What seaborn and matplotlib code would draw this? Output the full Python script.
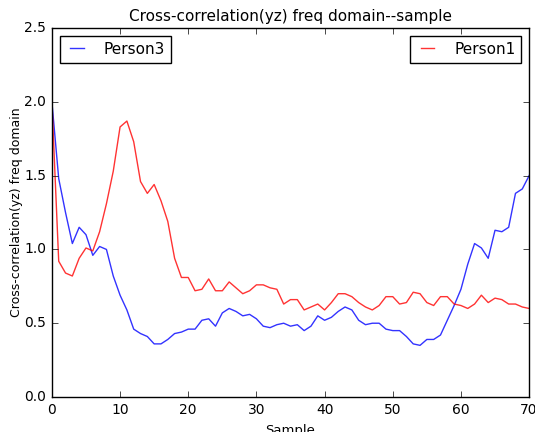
import numpy as np
import pandas as pd
import matplotlib
matplotlib.use("Agg")
import matplotlib.pyplot as plt
import seaborn as sns

samples = list(range(71))
person3 = [2.00, 1.48, 1.25, 1.04, 1.15, 1.10, 0.96, 1.02, 1.00, 0.82,
           0.69, 0.59, 0.46, 0.43, 0.41, 0.36, 0.36, 0.39, 0.43, 0.44,
           0.46, 0.46, 0.52, 0.53, 0.48, 0.57, 0.60, 0.58, 0.55, 0.56,
           0.53, 0.48, 0.47, 0.49, 0.50, 0.48, 0.49, 0.45, 0.48, 0.55,
           0.52, 0.54, 0.58, 0.61, 0.59, 0.52, 0.49, 0.50, 0.50, 0.46,
           0.45, 0.45, 0.41, 0.36, 0.35, 0.39, 0.39, 0.42, 0.52, 0.62,
           0.73, 0.90, 1.04, 1.01, 0.94, 1.13, 1.12, 1.15, 1.38, 1.41,
           1.50]
person1 = [2.00, 0.92, 0.84, 0.82, 0.94, 1.01, 0.99, 1.12, 1.31, 1.53,
           1.83, 1.87, 1.73, 1.46, 1.38, 1.44, 1.33, 1.19, 0.94, 0.81,
           0.81, 0.72, 0.73, 0.80, 0.72, 0.72, 0.78, 0.74, 0.70, 0.72,
           0.76, 0.76, 0.74, 0.73, 0.63, 0.66, 0.66, 0.59, 0.61, 0.63,
           0.59, 0.64, 0.70, 0.70, 0.68, 0.64, 0.61, 0.59, 0.62, 0.68,
           0.68, 0.63, 0.64, 0.71, 0.70, 0.64, 0.62, 0.68, 0.68, 0.63,
           0.62, 0.60, 0.63, 0.69, 0.64, 0.67, 0.66, 0.63, 0.63, 0.61,
           0.60]

plt.style.use("classic")
plt.rcParams["font.family"] = ["DejaVu Sans"]
plt.rcParams["font.size"] = 10

df3 = pd.DataFrame({"Sample": samples, "value": person3})
df1 = pd.DataFrame({"Sample": samples, "value": person1})

fig = plt.figure(figsize=(5.35, 4.32), dpi=100, facecolor="white")
ax = fig.add_axes([0.097, 0.081, 0.892, 0.854])
ax.set_facecolor("white")

sns.lineplot(data=df3, x="Sample", y="value", ax=ax, color="blue", alpha=0.8,
             linewidth=1, label="Person3", legend=False)
sns.lineplot(data=df1, x="Sample", y="value", ax=ax, color="red", alpha=0.8,
             linewidth=1, label="Person1", legend=False)

ax.set_xlim(0, 70)
ax.set_ylim(0, 2.5)
ax.set_xticks(range(0, 71, 10))
ax.set_yticks(np.arange(0, 2.51, 0.5))
ax.set_xlabel("Sample", fontsize=9.5)
ax.set_ylabel("Cross-correlation(yz) freq domain", fontsize=9, labelpad=1)
ax.set_title("Cross-correlation(yz) freq domain--sample", fontsize=11)
ax.tick_params(labelsize=10)

lines = ax.get_lines()
legkw = dict(fontsize=11, fancybox=False, framealpha=1, handlelength=1.5,
             handletextpad=1.0, borderpad=0.4, borderaxespad=0.5)
leg1 = ax.legend([lines[0]], ["Person3"], loc="upper left", **legkw)
ax.add_artist(leg1)
ax.legend([lines[1]], ["Person1"], loc="upper right", **legkw)

fig.savefig("out.png", dpi=100, facecolor="white")
